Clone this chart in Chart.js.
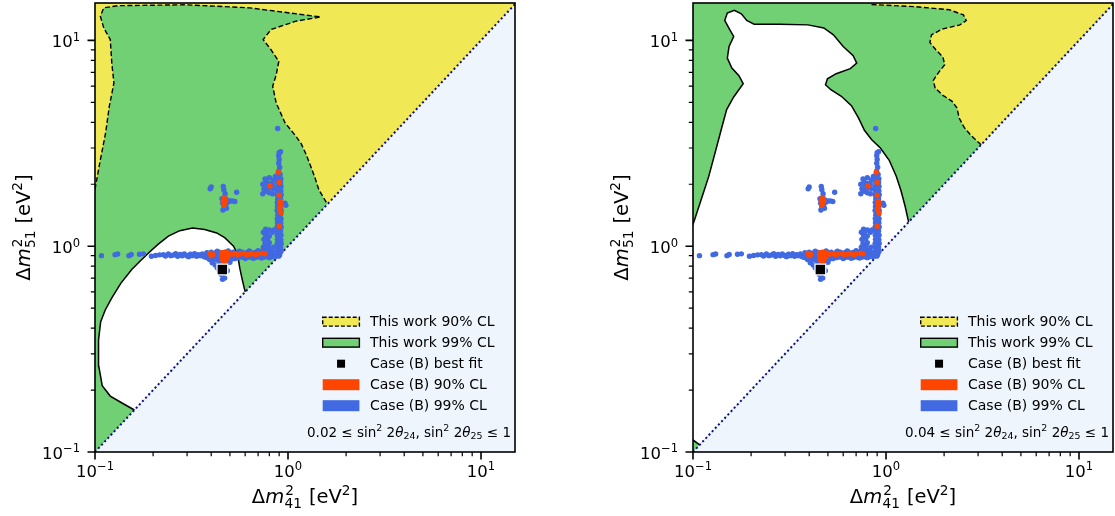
<!DOCTYPE html>
<html>
<head>
<meta charset="utf-8">
<script src="https://cdn.jsdelivr.net/npm/chart.js@4.4.1/dist/chart.umd.min.js"></script>
<style>
  html, body { margin: 0; padding: 0; background: #fff; }
  #wrap { position: relative; width: 1115px; height: 516px; }
  #wrap canvas { position: absolute; top: 0; }
</style>
</head>
<body>
<div id="wrap">
  <canvas id="leftChart" width="557" height="516" style="left:0"></canvas>
  <canvas id="rightChart" width="558" height="516" style="left:557px"></canvas>
</div>
<script>
(function () {
  "use strict";

  // ---- axis ranges and ticks ----
  const xRange = [0.1, 15];
  const yRange = [0.1, 15.2];
  const majorTicks = [0.1, 1, 10];
  const majorExponents = ["\u22121", "0", "1"];
  const minorTicks = [0.2, 0.3, 0.4, 0.5, 0.6, 0.7, 0.8, 0.9, 2, 3, 4, 5, 6, 7, 8, 9];

  const legendLabels = ["This work 90% CL", "This work 99% CL", "Case (B) best fit",
                        "Case (B) 90% CL", "Case (B) 99% CL"];
  const sinLowerBounds = ["0.02", "0.04"];

  // ---- contours (Δm²41, Δm²51) in eV² ----
  const leftDashed90 = [
    [0.100, 1.89], [0.1066, 2.63], [0.1135, 3.55], [0.1186, 4.78], [0.1253, 6.21], [0.1222, 7.76],
    [0.120, 10.1], [0.111, 11.5], [0.1066, 13.1], [0.111, 14.4], [0.132, 14.75], [0.295, 14.9],
    [0.633, 14.4], [1.477, 13.0], [1.098, 12.4], [0.817, 11.3], [0.743, 10.1], [0.817, 9.01],
    [0.896, 7.91], [0.869, 6.81], [0.833, 5.98], [0.869, 4.96], [0.966, 3.97], [1.10, 3.42],
    [1.17, 3.15], [1.24, 2.80], [1.31, 2.45], [1.38, 2.15], [1.445, 1.88], [1.60, 1.60]
  ];
  const leftSolid99 = [
    [0.160, 0.160], [0.138, 0.173], [0.120, 0.187], [0.109, 0.210], [0.1047, 0.260], [0.1043, 0.350],
    [0.107, 0.430], [0.113, 0.490], [0.122, 0.560], [0.136, 0.660], [0.155, 0.770], [0.172, 0.850],
    [0.190, 0.930], [0.212, 1.020], [0.240, 1.120], [0.275, 1.190], [0.320, 1.225], [0.370, 1.205],
    [0.427, 1.160], [0.470, 1.100], [0.500, 1.040], [0.522, 1.000], [0.540, 0.940], [0.552, 0.870],
    [0.563, 0.780], [0.577, 0.700], [0.590, 0.640], [0.600, 0.600]
  ];
  const rightDashed90 = [
    [0.841, 14.95], [1.395, 14.6], [2.128, 14.1], [2.518, 13.3], [2.605, 12.5], [2.415, 11.9],
    [1.955, 11.35], [1.722, 10.65], [1.687, 9.78], [1.812, 9.01], [1.972, 8.30], [2.014, 7.62],
    [1.875, 7.00], [1.758, 6.40], [1.797, 5.87], [1.972, 5.41], [2.200, 5.06], [2.333, 4.69],
    [2.393, 4.20], [2.540, 3.78], [2.760, 3.45], [3.110, 3.110]
  ];
  const rightSolid99 = [
    [0.100, 1.274], [0.1088, 1.62], [0.1208, 2.19], [0.1315, 2.95], [0.140, 3.68], [0.1494, 4.61],
    [0.1625, 5.31], [0.182, 6.16], [0.173, 6.74], [0.159, 7.34], [0.1506, 8.21], [0.1538, 9.35],
    [0.1625, 10.45], [0.1545, 11.35], [0.146, 12.5], [0.1506, 13.58], [0.1637, 13.99], [0.178, 13.47],
    [0.1898, 12.5], [0.2074, 12.0], [0.281, 12.0], [0.394, 11.9], [0.476, 11.5], [0.534, 10.65],
    [0.600, 9.35], [0.676, 8.43], [0.705, 7.76], [0.653, 7.29], [0.552, 6.89], [0.497, 6.51],
    [0.486, 6.09], [0.518, 5.76], [0.587, 5.35], [0.662, 4.82], [0.720, 4.20], [0.773, 3.66],
    [0.841, 3.30], [0.935, 3.00], [1.039, 2.615], [1.130, 2.187], [1.194, 1.870], [1.256, 1.564],
    [1.310, 1.310]
  ];
  const rightSolidCorner = [[0.1083, 0.1083], [0.100, 0.1144]];

  // ---- Case (B) scan points ----
  const caseB99 = [
    // sparse tail to the left
    [0.108, 0.900], [0.127, 0.910], [0.131, 0.916], [0.150, 0.900], [0.154, 0.912], [0.170, 0.914],
    [0.178, 0.918], [0.196, 0.893], [0.206, 0.902], [0.216, 0.908],
    // thin band
    [0.226, 0.910], [0.232, 0.896], [0.240, 0.916], [0.247, 0.900], [0.255, 0.906], [0.262, 0.920],
    [0.268, 0.893], [0.276, 0.912], [0.283, 0.898], [0.290, 0.918], [0.298, 0.902], [0.305, 0.890],
    [0.312, 0.915], [0.320, 0.900], [0.328, 0.920], [0.336, 0.893], [0.344, 0.910], [0.352, 0.898],
    [0.360, 0.918], [0.368, 0.888],
    // thick band
    [0.380, 0.930], [0.385, 0.905], [0.378, 0.882], [0.400, 0.935], [0.405, 0.900], [0.398, 0.878],
    [0.420, 0.928], [0.425, 0.905], [0.418, 0.880], [0.445, 0.932], [0.440, 0.900], [0.448, 0.876],
    [0.470, 0.935], [0.465, 0.905], [0.472, 0.880], [0.495, 0.930], [0.500, 0.902], [0.492, 0.878],
    [0.520, 0.935], [0.525, 0.905], [0.518, 0.882], [0.550, 0.930], [0.545, 0.900], [0.552, 0.880],
    [0.580, 0.935], [0.585, 0.905], [0.578, 0.885], [0.610, 0.930], [0.605, 0.902], [0.612, 0.882],
    [0.640, 0.935], [0.645, 0.905], [0.638, 0.885], [0.675, 0.932], [0.670, 0.903], [0.678, 0.882],
    [0.710, 0.935], [0.705, 0.905], [0.712, 0.885], [0.745, 0.938], [0.740, 0.905], [0.748, 0.885],
    [0.780, 0.935], [0.785, 0.905], [0.778, 0.888], [0.820, 0.935], [0.815, 0.905], [0.822, 0.890],
    [0.860, 0.935], [0.865, 0.905], [0.858, 0.892], [0.900, 0.935], [0.905, 0.910], [0.895, 0.895],
    [0.430, 0.945], [0.490, 0.948], [0.560, 0.946], [0.630, 0.948], [0.700, 0.950], [0.770, 0.950],
    [0.530, 0.870], [0.600, 0.872], [0.660, 0.874], [0.730, 0.876], [0.800, 0.880],
    // blob under the band, around the best fit
    [0.392, 0.862], [0.410, 0.855], [0.430, 0.860], [0.450, 0.852], [0.470, 0.858], [0.490, 0.850],
    [0.505, 0.862], [0.405, 0.830], [0.420, 0.810], [0.440, 0.820], [0.480, 0.825], [0.500, 0.835],
    [0.430, 0.785], [0.440, 0.760], [0.475, 0.790], [0.485, 0.760], [0.450, 0.730], [0.462, 0.710],
    [0.458, 0.690], [0.470, 0.700],
    // step near the corner
    [0.740, 0.950], [0.770, 0.960], [0.800, 0.950], [0.745, 0.990], [0.790, 1.000], [0.760, 1.030],
    [0.800, 1.040], [0.750, 1.080], [0.785, 1.090], [0.765, 1.130], [0.800, 1.120], [0.745, 1.170],
    [0.780, 1.180], [0.765, 1.210], [0.800, 1.200], [0.820, 0.960], [0.840, 0.990], [0.830, 1.170],
    [0.845, 1.200],
    // vertical strip
    [0.880, 0.940], [0.920, 0.945], [0.885, 0.980], [0.915, 0.985], [0.878, 1.030], [0.922, 1.030],
    [0.882, 1.080], [0.918, 1.075], [0.880, 1.130], [0.920, 1.130], [0.885, 1.180], [0.915, 1.185],
    [0.878, 1.240], [0.922, 1.240], [0.882, 1.300], [0.918, 1.300], [0.880, 1.360], [0.920, 1.360],
    [0.885, 1.420], [0.915, 1.425], [0.878, 1.490], [0.922, 1.490], [0.882, 1.560], [0.918, 1.560],
    [0.880, 1.630], [0.920, 1.630], [0.885, 1.700], [0.915, 1.700], [0.878, 1.780], [0.922, 1.780],
    [0.882, 1.860], [0.918, 1.860], [0.880, 1.950], [0.920, 1.950], [0.885, 2.040], [0.915, 2.040],
    [0.880, 2.130], [0.918, 2.130], [0.888, 2.220], [0.910, 2.230], [0.895, 2.320], [0.905, 2.420],
    [0.895, 2.530], [0.900, 2.640], [0.895, 2.750], [0.900, 2.850], [0.915, 2.880], [0.884, 3.730],
    // widening of the strip
    [0.740, 1.800], [0.770, 1.850], [0.800, 1.820], [0.830, 1.800], [0.750, 1.900], [0.780, 1.950],
    [0.810, 1.920], [0.845, 1.900], [0.740, 2.000], [0.770, 2.050], [0.800, 2.020], [0.830, 2.000],
    [0.760, 2.120], [0.800, 2.150], [0.840, 2.100], [0.860, 2.180], [0.965, 1.620], [0.975, 1.580],
    // isolated island
    [0.455, 1.700], [0.470, 1.730], [0.482, 1.680], [0.458, 1.620], [0.476, 1.600], [0.490, 1.640],
    [0.465, 1.550], [0.480, 1.530], [0.472, 1.800], [0.465, 1.880], [0.500, 1.660], [0.515, 1.660],
    [0.530, 1.650], [0.460, 1.500], [0.395, 1.900], [0.400, 1.940], [0.462, 1.950], [0.542, 1.830]
  ];
  const caseB90 = [
    [0.465, 1.580], [0.470, 1.630], [0.475, 1.670], [0.468, 1.710], [0.462, 1.650],
    [0.455, 0.930], [0.470, 0.932], [0.485, 0.930], [0.455, 0.905], [0.470, 0.905], [0.485, 0.905],
    [0.455, 0.880], [0.470, 0.880], [0.485, 0.880], [0.460, 0.855], [0.475, 0.855], [0.468, 0.830],
    [0.395, 0.922], [0.400, 0.900], [0.408, 0.912],
    [0.510, 0.915], [0.530, 0.922], [0.550, 0.908], [0.570, 0.918], [0.590, 0.922], [0.610, 0.908],
    [0.630, 0.915], [0.650, 0.922], [0.680, 0.910], [0.700, 0.918], [0.740, 0.925], [0.760, 0.918],
    [0.890, 2.290], [0.900, 2.040], [0.807, 1.960], [0.900, 1.770], [0.915, 1.600], [0.905, 1.510],
    [0.920, 1.450], [0.910, 1.550], [0.900, 1.250], [0.912, 1.650]
  ];
  const caseBBest = [[0.457, 0.770]];

  const COL = {
    yellow: "#f0e854",
    green: "#70d073",
    paleBlue: "#eef5fd",
    blue: "#4169e1",
    orange: "#ff4500",
    diag: "#0c0c88"
  };
  const FONT = "'DejaVu Sans'";

  const toXY = pts => pts.map(p => ({ x: p[0], y: p[1] }));
  const diagonal = [[xRange[0], xRange[0]], [xRange[1], xRange[1]]];
  const lowerTri = [[xRange[0], yRange[0]], [xRange[1], xRange[1]], [xRange[1], yRange[0]]];
  const upperTri = [[xRange[0], yRange[0]], [xRange[0], yRange[1]], [xRange[1], yRange[1]], [xRange[1], xRange[1]]];

  // ---- text helpers (mathtext-like runs) ----
  function setFont(ctx, size, it) {
    ctx.font = (it ? "italic " : "") + size + "px " + FONT;
  }
  function runWidth(ctx, r, size) {
    const small = size * 0.7;
    if (r.stack) {
      setFont(ctx, small, false);
      return Math.max(ctx.measureText(r.stack[0]).width, ctx.measureText(r.stack[1]).width) + size * 0.06;
    }
    setFont(ctx, (r.sup || r.sub) ? small : size, r.it);
    return ctx.measureText(r.t).width;
  }
  function runsWidth(ctx, runs, size) {
    return runs.reduce((w, r) => w + runWidth(ctx, r, size), 0);
  }
  function drawRuns(ctx, runs, x, y, size) {
    const small = size * 0.7;
    ctx.textAlign = "left";
    ctx.textBaseline = "alphabetic";
    runs.forEach(r => {
      const w = runWidth(ctx, r, size);
      if (r.stack) {
        setFont(ctx, small, false);
        ctx.fillText(r.stack[0], x + size * 0.06, y - size * 0.42);
        ctx.fillText(r.stack[1], x + size * 0.02, y + size * 0.25);
      } else {
        const dy = r.sup ? -size * 0.4 : r.sub ? size * 0.2 : 0;
        ctx.fillText(r.t, x, y + dy);
      }
      x += w;
    });
  }
  const axisTitle = sub => [{ t: "\u0394" }, { t: "m", it: true }, { stack: ["2", sub] },
                            { t: " [eV" }, { t: "2", sup: true }, { t: "]" }];
  const noteRuns = lo => [{ t: lo + " \u2264 sin" }, { t: "2", sup: true }, { t: " 2" }, { t: "\u03b8", it: true },
                          { t: "24", sub: true }, { t: ", sin" }, { t: "2", sup: true }, { t: " 2" },
                          { t: "\u03b8", it: true }, { t: "25", sub: true }, { t: " \u2264 1" }];

  // ---- frame, ticks, labels, legend ----
  const framePlugin = {
    id: "frame",
    afterDraw(chart) {
      const ctx = chart.ctx, a = chart.chartArea;
      const xs = chart.scales.x, ys = chart.scales.y;
      const note = chart.options.plugins.frame.note;
      ctx.save();
      ctx.strokeStyle = "#000";
      ctx.fillStyle = "#000";

      // tick marks
      const tick = (vals, len, lw) => {
        ctx.lineWidth = lw;
        ctx.beginPath();
        vals.forEach(v => {
          const px = xs.getPixelForValue(v);
          if (px >= a.left - 0.5 && px <= a.right + 0.5) { ctx.moveTo(px, a.bottom); ctx.lineTo(px, a.bottom + len); }
          const py = ys.getPixelForValue(v);
          if (py >= a.top - 0.5 && py <= a.bottom + 0.5) { ctx.moveTo(a.left, py); ctx.lineTo(a.left - len, py); }
        });
        ctx.stroke();
      };
      tick(minorTicks, 4.2, 1.2);
      tick(majorTicks, 7.5, 1.6);

      // tick labels
      const tsz = 16.5;
      majorTicks.forEach((v, i) => {
        const runs = [{ t: "10" }, { t: majorExponents[i], sup: true }];
        const w = runsWidth(ctx, runs, tsz);
        drawRuns(ctx, runs, xs.getPixelForValue(v) - w / 2, a.bottom + 24.5, tsz);
        drawRuns(ctx, runs, a.left - 15 - w, ys.getPixelForValue(v) + 7, tsz);
      });

      // axis titles
      const asz = 19.5;
      const xt = axisTitle("41");
      drawRuns(ctx, xt, (a.left + a.right) / 2 - runsWidth(ctx, xt, asz) / 2, a.bottom + 51, asz);
      const yt = axisTitle("51");
      ctx.save();
      ctx.translate(a.left - 65, (a.top + a.bottom) / 2);
      ctx.rotate(-Math.PI / 2);
      drawRuns(ctx, yt, -runsWidth(ctx, yt, asz) / 2, 0, asz);
      ctx.restore();

      // legend
      const hx = a.right - 192.3, hw = 36.7, tx = a.right - 145;
      legendLabels.forEach((label, i) => {
        const cy = a.bottom - 130.3 + i * 21;
        ctx.setLineDash([]);
        if (i === 0 || i === 1) {
          ctx.fillStyle = i === 0 ? COL.yellow : COL.green;
          ctx.fillRect(hx, cy - 4.4, hw, 8.8);
          ctx.lineWidth = 1.4;
          ctx.setLineDash(i === 0 ? [4, 2] : []);
          ctx.strokeRect(hx, cy - 4.4, hw, 8.8);
          ctx.setLineDash([]);
        } else if (i === 2) {
          ctx.fillStyle = "#000";
          ctx.fillRect(hx + hw / 2 - 4, cy - 4, 8, 8);
        } else {
          ctx.fillStyle = i === 3 ? COL.orange : COL.blue;
          ctx.fillRect(hx, cy - 5.5, hw, 11);
        }
        ctx.fillStyle = "#000";
        setFont(ctx, 14, false);
        ctx.textAlign = "left";
        ctx.textBaseline = "middle";
        ctx.fillText(label, tx, cy + 0.5);
      });

      // note
      const nr = noteRuns(note);
      const nsz = 13.5;
      drawRuns(ctx, nr, a.right - 4 - runsWidth(ctx, nr, nsz), a.bottom - 15.3, nsz);

      // spines
      ctx.lineWidth = 1.6;
      ctx.strokeRect(a.left, a.top, a.right - a.left, a.bottom - a.top);
      ctx.restore();
    }
  };

  function poly(pts, color, order) {
    return { data: toXY(pts), showLine: true, fill: "shape", backgroundColor: color,
             borderColor: "rgba(0,0,0,0)", borderWidth: 0, pointRadius: 0, tension: 0, order };
  }
  function line(pts, color, width, dash, order) {
    return { data: toXY(pts), showLine: true, fill: false, borderColor: color, borderWidth: width,
             borderDash: dash, pointRadius: 0, tension: 0, order };
  }
  function dots(pts, color, radius, order) {
    return { data: toXY(pts), showLine: false, backgroundColor: color, borderWidth: 0,
             pointRadius: radius, order };
  }
  function bestFit(order) {
    return { data: toXY(caseBBest), showLine: false, pointStyle: "rect", pointRadius: 7.6,
             backgroundColor: "#000", borderColor: "#fff", borderWidth: 1.3, order };
  }

  function makeChart(id, datasets, yWidth, padRight, note) {
    return new Chart(document.getElementById(id), {
      type: "scatter",
      data: { datasets },
      options: {
        responsive: false,
        animation: false,
        devicePixelRatio: 1,
        events: [],
        layout: { padding: { left: 0, right: padRight, top: 3, bottom: 0 }, autoPadding: false },
        plugins: { legend: { display: false }, tooltip: { enabled: false }, frame: { note } },
        scales: {
          x: {
            type: "logarithmic", min: xRange[0], max: xRange[1],
            grid: { display: false }, border: { display: false }, ticks: { display: false },
            afterFit: s => { s.height = 64; }
          },
          y: {
            type: "logarithmic", min: yRange[0], max: yRange[1],
            grid: { display: false }, border: { display: false }, ticks: { display: false },
            afterFit: s => { s.width = yWidth; }
          }
        }
      },
      plugins: [framePlugin]
    });
  }

  // left panel: yellow base, green 99% band, white allowed region
  makeChart("leftChart", [
    poly(lowerTri, COL.paleBlue, 20),
    poly(upperTri, COL.yellow, 19),
    poly(leftDashed90.concat([[xRange[0], yRange[0]]]), COL.green, 18),
    poly(leftSolid99, "#ffffff", 17),
    line(leftDashed90, "#000", 1.4, [5, 2.5], 16),
    line(leftSolid99, "#000", 1.5, [], 15),
    line(diagonal, COL.diag, 2, [2, 2.6], 14),
    dots(caseB99, COL.blue, 2.7, 3),
    dots(caseB90, COL.orange, 2.7, 2),
    bestFit(1)
  ], 95, 42, sinLowerBounds[0]);

  // right panel: green base, yellow 90% corner, white allowed region
  makeChart("rightChart", [
    poly(lowerTri, COL.paleBlue, 20),
    poly(upperTri, COL.green, 19),
    poly(rightDashed90.concat([[xRange[1], xRange[1]], [xRange[1], yRange[1]], [rightDashed90[0][0], yRange[1]]]), COL.yellow, 18),
    poly(rightSolid99.concat(rightSolidCorner), "#ffffff", 17),
    line(rightDashed90, "#000", 1.4, [5, 2.5], 16),
    line(rightSolid99, "#000", 1.5, [], 15),
    line(rightSolidCorner, "#000", 1.5, [], 15),
    line(diagonal, COL.diag, 2, [2, 2.6], 14),
    dots(caseB99, COL.blue, 2.7, 3),
    dots(caseB90, COL.orange, 2.7, 2),
    bestFit(1)
  ], 136, 2, sinLowerBounds[1]);
})();
</script>
</body>
</html>
